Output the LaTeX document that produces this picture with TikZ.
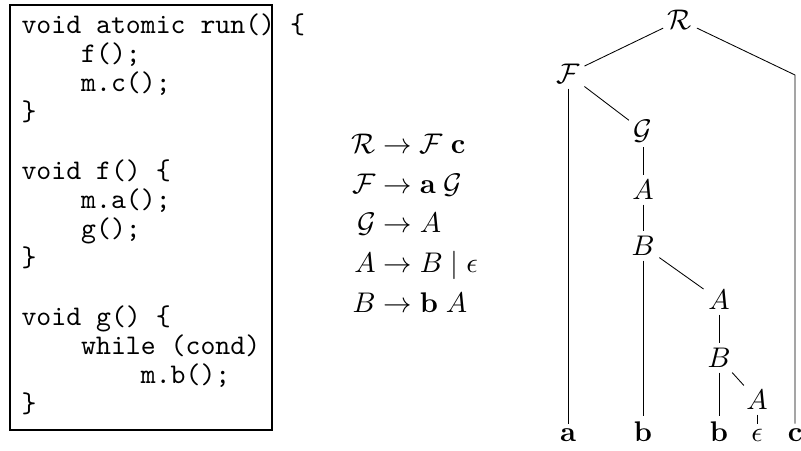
\documentclass[tikz,border=0pt]{standalone}
\usepackage{amsmath}
\usepackage{amssymb}
\setlength{\jot}{2pt}

\begin{document}
\begin{tikzpicture}[
    x=0.352pt, y=-0.352pt,
    codeline/.style={anchor=base west, inner sep=0pt, font=\ttfamily},
    codeframe/.style={draw, line width=0.8pt},
    sym/.style={inner sep=1.5pt},
    leaf/.style={anchor=base, inner sep=1.5pt},
    branch/.style={line width=0.3pt}
]
    \useasboundingbox (0,0) rectangle (801,450);

    % the program
    \draw[codeframe] (10,5) rectangle (272,430);
    \foreach \k/\txt in {0/{void atomic run() \{}, 1/{\hspace*{2.1em}f();}, 2/{\hspace*{2.1em}m.c();}, 3/{\}},
        5/{void f() \{}, 6/{\hspace*{2.1em}m.a();}, 7/{\hspace*{2.1em}g();}, 8/{\}},
        10/{void g() \{}, 11/{\hspace*{2.1em}while (cond)}, 12/{\hspace*{4.2em}m.b();}, 13/{\}}}
        \node[codeline] (code\k) at (21,{33+29.23*\k}) {\txt};

    % the grammar
    \node[anchor=west, inner sep=0pt] (grammar) at (351,226) {$\begin{aligned}
        \mathcal{R} &\to \mathcal{F}\;\mathbf{c}\\
        \mathcal{F} &\to \mathbf{a}\;\mathcal{G}\\
        \mathcal{G} &\to A\\
        A &\to B \mid \epsilon\\
        B &\to \mathbf{b}\;A
    \end{aligned}$};

    % the parse tree
    \node[sym] (R) at (680,20) {$\mathcal{R}$};
    \node[sym] (F) at (568,74) {$\mathcal{F}$};
    \node[sym] (G) at (643,131) {$\mathcal{G}$};
    \node[sym] (A1) at (643,190) {$A$};
    \node[sym] (B1) at (643,246) {$B$};
    \node[sym] (A2) at (719,300) {$A$};
    \node[sym] (B2) at (719,358) {$B$};
    \node[sym] (A3) at (757,400) {$A$};
    \coordinate (cbend) at (795,75);

    \node[leaf] (la) at (568,441) {$\mathbf{a}$};
    \node[leaf] (lb1) at (643,441) {$\mathbf{b}$};
    \node[leaf] (lb2) at (719,441) {$\mathbf{b}$};
    \node[leaf] (leps) at (757,441) {$\epsilon$};
    \node[leaf] (lc) at (795,441) {$\mathbf{c}$};

    \draw[branch] (R) -- (F);
    \draw[branch] (R) -- (cbend) -- (lc);
    \draw[branch] (F) -- (la);
    \draw[branch] (F) -- (G);
    \draw[branch] (G) -- (A1);
    \draw[branch] (A1) -- (B1);
    \draw[branch] (B1) -- (lb1);
    \draw[branch] (B1) -- (A2);
    \draw[branch] (A2) -- (B2);
    \draw[branch] (B2) -- (lb2);
    \draw[branch] (B2) -- (A3);
    \draw[branch] (A3) -- (leps);
\end{tikzpicture}
\end{document}
